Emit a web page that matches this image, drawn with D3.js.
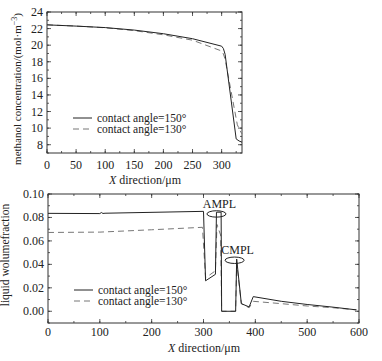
<!DOCTYPE html>
<html>
<head>
<meta charset="utf-8">
<script src="https://cdn.jsdelivr.net/npm/d3@7"></script>
<style>
  body { margin: 0; background: #fff; }
  text { font-family: "Liberation Serif", "DejaVu Serif", serif; }
</style>
</head>
<body>
<svg id="chart" width="382" height="361" font-family="Liberation Serif, DejaVu Serif, serif"></svg>
<script>
// top panel: methanol concentration
const topSolid = [
    [0, 22.45], [50, 22.3], [100, 22.12], [150, 21.82], [200, 21.38],
    [250, 20.78], [300, 19.88], [303, 19.6], [306, 18.9], [325, 8.7],
    [330, 8.45], [335, 8.3]
];
const topDashed = [
    [0, 22.45], [50, 22.3], [100, 22.1], [150, 21.75], [200, 21.25],
    [250, 20.6], [300, 19.3], [303, 18.95], [306, 18.3], [327, 10.4],
    [332, 9.65], [335, 9.3]
];

// bottom panel: liquid volume fraction
const botSolid = [
    [0, 0.0835], [100, 0.0833], [103, 0.0842], [106, 0.0834], [110, 0.0836],
    [300, 0.0852], [304, 0.026], [323, 0.0315], [325, 0.0845], [334, 0.0845],
    [335, 0], [362, 0], [364, 0.0445], [373, 0.0065], [388, 0.0037],
    [396, 0.0125], [450, 0.0085], [500, 0.0058], [550, 0.0035], [595, 0.0012]
];
const botDashed = [
    [0, 0.0672], [100, 0.0675], [200, 0.0695], [298, 0.0716], [304, 0.0285],
    [323, 0.0345], [326, 0.074], [333, 0.065], [335, 0], [362, 0],
    [364, 0.041], [373, 0.0065], [388, 0.003], [396, 0.0085], [450, 0.0065],
    [500, 0.0045], [550, 0.003], [595, 0.0012]
];

const legendLabels = ['contact angle=150°', 'contact angle=130°'];
const annotations = [
    { label: 'AMPL', x: 325, y: 0.083 },
    { label: 'CMPL', x: 360, y: 0.0435 }
];

const svg = d3.select('#chart');

function panel(box, xDom, yDom, xMajor, xMinor, yMajor, yMinor, yFmt) {
    const x = d3.scaleLinear().domain(xDom).range([box.left, box.right]);
    const y = d3.scaleLinear().domain(yDom).range([box.bottom, box.top]);
    const g = svg.append('g');

    const xMaj = d3.range(xDom[0], xDom[1] + 0.001, xMajor);
    const xMin = d3.range(xDom[0], xDom[1] + 0.001, xMinor);
    const yMaj = d3.range(Math.ceil(yDom[0] / yMajor - 1e-9) * yMajor, yDom[1] + 1e-9, yMajor);
    const yMin = d3.range(Math.ceil(yDom[0] / yMinor - 1e-9) * yMinor, yDom[1] + 1e-9, yMinor);

    // inward ticks on all four sides
    const tick = (vals, len, side) => {
        vals.forEach(v => {
            let a;
            if (side === 'b') a = [x(v), box.bottom, x(v), box.bottom - len];
            if (side === 't') a = [x(v), box.top, x(v), box.top + len];
            if (side === 'l') a = [box.left, y(v), box.left + len, y(v)];
            if (side === 'r') a = [box.right, y(v), box.right - len, y(v)];
            g.append('line').attr('x1', a[0]).attr('y1', a[1]).attr('x2', a[2]).attr('y2', a[3])
                .attr('stroke', '#333').attr('stroke-width', 0.8);
        });
    };
    tick(xMaj, 4, 'b'); tick(xMin, 2, 'b'); tick(xMaj, 4, 't'); tick(xMin, 2, 't');
    tick(yMaj, 4, 'l'); tick(yMin, 2, 'l'); tick(yMaj, 4, 'r'); tick(yMin, 2, 'r');

    g.append('rect')
        .attr('x', box.left).attr('y', box.top)
        .attr('width', box.right - box.left).attr('height', box.bottom - box.top)
        .attr('fill', 'none').attr('stroke', '#333').attr('stroke-width', 1);

    g.selectAll('.xl').data(xMaj).enter().append('text')
        .attr('x', d => x(d)).attr('y', box.bottom + box.xlab)
        .attr('text-anchor', 'middle').attr('font-size', 12).attr('fill', '#222')
        .text(d => d);
    g.selectAll('.yl').data(yMaj).enter().append('text')
        .attr('x', box.left - 4).attr('y', d => y(d) + 4)
        .attr('text-anchor', 'end').attr('font-size', 12).attr('fill', '#222')
        .text(yFmt);

    return { x, y, g };
}

function drawLines(p, solid, dashed) {
    const line = d3.line().x(d => p.x(d[0])).y(d => p.y(d[1]));
    p.g.append('path').datum(dashed).attr('d', line)
        .attr('fill', 'none').attr('stroke', '#777').attr('stroke-width', 1)
        .attr('stroke-dasharray', '6,4');
    p.g.append('path').datum(solid).attr('d', line)
        .attr('fill', 'none').attr('stroke', '#222').attr('stroke-width', 1);
}

function legend(x0, y0) {
    legendLabels.forEach((t, i) => {
        const yy = y0 + i * 11;
        svg.append('line').attr('x1', x0).attr('x2', x0 + 19).attr('y1', yy).attr('y2', yy)
            .attr('stroke', i ? '#777' : '#222').attr('stroke-width', 1)
            .attr('stroke-dasharray', i ? '6,4' : null);
        svg.append('text').attr('x', x0 + 24).attr('y', yy + 4)
            .attr('font-size', 11.5).attr('fill', '#222').text(t);
    });
}

function xTitle(cx, cy) {
    const t = svg.append('text').attr('x', cx).attr('y', cy)
        .attr('text-anchor', 'middle').attr('font-size', 12).attr('fill', '#222');
    t.append('tspan').attr('font-style', 'italic').text('X');
    t.append('tspan').text(' direction/μm');
}

// top panel
const p1 = panel({ left: 47, right: 242, top: 12, bottom: 153, xlab: 16 }, [0, 335], [7, 24], 50, 25, 2, 1, d => d);
drawLines(p1, topSolid, topDashed);
legend(73, 118);
xTitle(145, 184);
const yt1 = svg.append('text').attr('transform', 'translate(21,' + 89 + ') rotate(-90)')
    .attr('text-anchor', 'middle').attr('font-size', 11).attr('fill', '#222');
yt1.append('tspan').text('methanol concentration/(mol·m');
yt1.append('tspan').attr('dy', -4).attr('font-size', 8).text('−3');
yt1.append('tspan').attr('dy', 4).text(')');

// bottom panel
const p2 = panel({ left: 48, right: 359, top: 194, bottom: 323, xlab: 13 }, [0, 600], [-0.01, 0.1], 100, 50, 0.02, 0.01, d => d3.format('.2f')(d));
drawLines(p2, botSolid, botDashed);
legend(74, 290);
xTitle(204, 352);
svg.append('text').attr('transform', 'translate(9,' + 255 + ') rotate(-90)')
    .attr('text-anchor', 'middle').attr('font-size', 11.5).attr('fill', '#222')
    .text('liquid wolumefraction');

// annotations
annotations.forEach(a => {
    p2.g.append('ellipse').attr('cx', p2.x(a.x)).attr('cy', p2.y(a.y))
        .attr('rx', 9.5).attr('ry', 3.2)
        .attr('fill', 'none').attr('stroke', '#222').attr('stroke-width', 1);
    p2.g.append('text').attr('x', p2.x(a.x) + 3).attr('y', p2.y(a.y) - 6)
        .attr('text-anchor', 'middle').attr('font-size', 12).attr('fill', '#222')
        .text(a.label);
});
</script>
</body>
</html>
